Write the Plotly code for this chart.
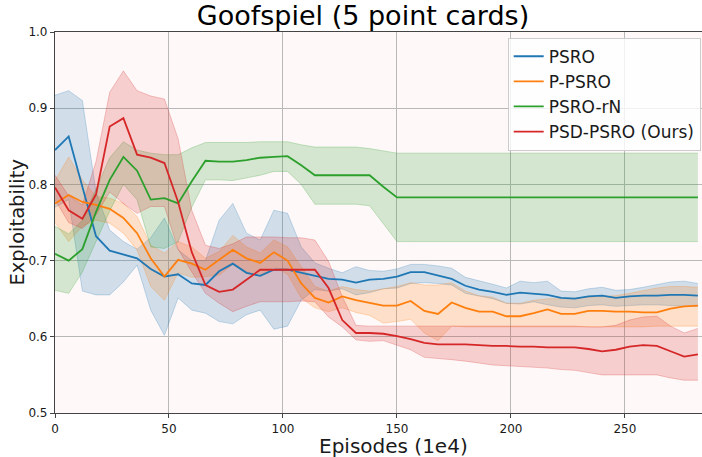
import plotly.graph_objects as go

episodes = [0, 6, 12, 18, 24, 30, 36, 42, 48, 54, 60, 66, 72, 78, 84, 90, 96, 102, 108, 114,
            120, 126, 132, 138, 144, 150, 156, 162, 168, 174, 180, 186, 192, 198, 204, 210,
            216, 222, 228, 234, 240, 246, 252, 258, 264, 270, 276, 282]

psro_mean = [0.845, 0.863, 0.797, 0.732, 0.713, 0.708, 0.703, 0.689, 0.679, 0.682, 0.670, 0.668,
             0.686, 0.696, 0.684, 0.680, 0.688, 0.688, 0.684, 0.680, 0.676, 0.675, 0.671, 0.675,
             0.676, 0.679, 0.685, 0.685, 0.681, 0.676, 0.667, 0.662, 0.659, 0.655, 0.658, 0.657,
             0.655, 0.651, 0.650, 0.653, 0.654, 0.651, 0.653, 0.654, 0.654, 0.655, 0.655, 0.654]
psro_upper = [0.917, 0.923, 0.910, 0.790, 0.740, 0.725, 0.715, 0.730, 0.756, 0.714, 0.700, 0.700,
              0.753, 0.775, 0.736, 0.727, 0.766, 0.762, 0.718, 0.697, 0.690, 0.684, 0.692, 0.687,
              0.686, 0.689, 0.695, 0.695, 0.693, 0.690, 0.678, 0.674, 0.669, 0.664, 0.673, 0.671,
              0.673, 0.660, 0.659, 0.663, 0.665, 0.661, 0.662, 0.665, 0.668, 0.672, 0.673, 0.670]
psro_lower = [0.770, 0.780, 0.660, 0.655, 0.655, 0.672, 0.694, 0.635, 0.602, 0.651, 0.635, 0.631,
              0.620, 0.617, 0.629, 0.635, 0.610, 0.614, 0.648, 0.662, 0.660, 0.663, 0.655, 0.658,
              0.663, 0.664, 0.670, 0.671, 0.670, 0.668, 0.657, 0.653, 0.650, 0.644, 0.643, 0.646,
              0.642, 0.639, 0.638, 0.641, 0.642, 0.640, 0.641, 0.642, 0.642, 0.641, 0.640, 0.640]

ppsro_mean = [0.775, 0.786, 0.777, 0.773, 0.768, 0.756, 0.736, 0.703, 0.679, 0.701, 0.696, 0.688,
              0.701, 0.714, 0.703, 0.697, 0.711, 0.700, 0.670, 0.651, 0.645, 0.653, 0.648, 0.645,
              0.641, 0.641, 0.647, 0.634, 0.630, 0.645, 0.638, 0.633, 0.633, 0.627, 0.627, 0.631,
              0.636, 0.630, 0.630, 0.634, 0.634, 0.633, 0.633, 0.632, 0.632, 0.637, 0.640, 0.641]
ppsro_upper = [0.805, 0.836, 0.806, 0.784, 0.782, 0.775, 0.758, 0.720, 0.710, 0.725, 0.718, 0.703,
               0.712, 0.733, 0.718, 0.710, 0.727, 0.718, 0.692, 0.666, 0.660, 0.666, 0.662, 0.660,
               0.663, 0.666, 0.671, 0.668, 0.668, 0.671, 0.660, 0.654, 0.652, 0.644, 0.644, 0.648,
               0.650, 0.650, 0.651, 0.652, 0.653, 0.654, 0.657, 0.660, 0.664, 0.666, 0.666, 0.665]
ppsro_lower = [0.750, 0.725, 0.745, 0.753, 0.749, 0.736, 0.714, 0.666, 0.648, 0.684, 0.678, 0.679,
               0.681, 0.695, 0.685, 0.680, 0.692, 0.682, 0.651, 0.638, 0.633, 0.638, 0.632, 0.628,
               0.618, 0.620, 0.623, 0.605, 0.595, 0.614, 0.613, 0.613, 0.613, 0.613, 0.613, 0.613,
               0.613, 0.613, 0.613, 0.613, 0.613, 0.613, 0.613, 0.613, 0.614, 0.614, 0.614, 0.614]

psrorn_mean = [0.709, 0.700, 0.715, 0.764, 0.806, 0.836, 0.818, 0.780, 0.782, 0.775, 0.804, 0.831,
               0.830, 0.830, 0.832, 0.835, 0.836, 0.837, 0.825, 0.812, 0.812, 0.812, 0.812, 0.812,
               0.797, 0.783, 0.783, 0.783, 0.783, 0.783, 0.783, 0.783, 0.783, 0.783, 0.783, 0.783,
               0.783, 0.783, 0.783, 0.783, 0.783, 0.783, 0.783, 0.783, 0.783, 0.783, 0.783, 0.783]
psrorn_upper = [0.745, 0.735, 0.753, 0.793, 0.835, 0.856, 0.845, 0.841, 0.839, 0.839, 0.848, 0.855,
                0.855, 0.855, 0.855, 0.856, 0.856, 0.856, 0.852, 0.849, 0.849, 0.849, 0.849, 0.847,
                0.844, 0.841, 0.841, 0.841, 0.841, 0.841, 0.841, 0.841, 0.841, 0.841, 0.841, 0.841,
                0.841, 0.841, 0.841, 0.841, 0.841, 0.841, 0.841, 0.841, 0.841, 0.841, 0.841, 0.841]
psrorn_lower = [0.661, 0.657, 0.685, 0.725, 0.765, 0.800, 0.780, 0.718, 0.716, 0.725, 0.770, 0.806,
                0.806, 0.805, 0.808, 0.812, 0.817, 0.817, 0.800, 0.774, 0.774, 0.774, 0.774, 0.772,
                0.748, 0.725, 0.725, 0.725, 0.725, 0.725, 0.725, 0.725, 0.725, 0.725, 0.725, 0.725,
                0.725, 0.725, 0.725, 0.725, 0.725, 0.725, 0.725, 0.725, 0.725, 0.725, 0.725, 0.725]

psd_mean = [0.796, 0.766, 0.755, 0.787, 0.876, 0.887, 0.839, 0.835, 0.828, 0.777, 0.711, 0.668,
            0.659, 0.662, 0.675, 0.688, 0.688, 0.688, 0.688, 0.688, 0.664, 0.622, 0.605, 0.605,
            0.604, 0.601, 0.597, 0.592, 0.590, 0.590, 0.590, 0.589, 0.588, 0.588, 0.587, 0.587,
            0.586, 0.586, 0.586, 0.584, 0.581, 0.583, 0.587, 0.589, 0.588, 0.581, 0.574, 0.577]
psd_upper = [0.812, 0.785, 0.773, 0.830, 0.921, 0.949, 0.923, 0.916, 0.912, 0.860, 0.766, 0.720,
             0.716, 0.722, 0.731, 0.731, 0.731, 0.730, 0.730, 0.727, 0.699, 0.653, 0.615, 0.614,
             0.614, 0.614, 0.614, 0.614, 0.614, 0.614, 0.614, 0.614, 0.614, 0.614, 0.614, 0.614,
             0.614, 0.614, 0.614, 0.613, 0.613, 0.615, 0.622, 0.626, 0.627, 0.614, 0.605, 0.611]
psd_lower = [0.780, 0.750, 0.742, 0.760, 0.790, 0.775, 0.762, 0.771, 0.771, 0.715, 0.685, 0.657,
             0.644, 0.633, 0.640, 0.646, 0.646, 0.646, 0.647, 0.646, 0.626, 0.613, 0.596, 0.594,
             0.595, 0.589, 0.583, 0.573, 0.572, 0.570, 0.568, 0.566, 0.563, 0.562, 0.561, 0.560,
             0.559, 0.557, 0.556, 0.553, 0.550, 0.550, 0.550, 0.550, 0.550, 0.546, 0.543, 0.543]

series_names = ["PSRO", "P-PSRO", "PSRO-rN", "PSD-PSRO (Ours)"]
series_colors = [(31, 119, 180), (255, 127, 14), (44, 160, 44), (214, 39, 40)]
means = [psro_mean, ppsro_mean, psrorn_mean, psd_mean]
uppers = [psro_upper, ppsro_upper, psrorn_upper, psd_upper]
lowers = [psro_lower, ppsro_lower, psrorn_lower, psd_lower]

x_ticks = [0, 50, 100, 150, 200, 250]
y_ticks = [0.5, 0.6, 0.7, 0.8, 0.9, 1.0]

FONT = "DejaVu Sans"
fig = go.Figure()

for name, c, up, lo in zip(series_names, series_colors, uppers, lowers):
    rgba_fill = "rgba(%d,%d,%d,0.2)" % c
    rgba_edge = "rgba(%d,%d,%d,0.25)" % c
    fig.add_trace(go.Scatter(x=episodes, y=up, mode="lines",
                             line=dict(color=rgba_edge, width=1),
                             showlegend=False, hoverinfo="skip"))
    fig.add_trace(go.Scatter(x=episodes, y=lo, mode="lines", fill="tonexty",
                             fillcolor=rgba_fill,
                             line=dict(color=rgba_edge, width=1),
                             showlegend=False, hoverinfo="skip"))

for name, c, m in zip(series_names, series_colors, means):
    fig.add_trace(go.Scatter(x=episodes, y=m, mode="lines", name=name,
                             legendgroup=name,
                             line=dict(color="rgb(%d,%d,%d)" % c, width=1.8)))

fig.update_layout(
    width=702, height=457,
    margin=dict(l=55, r=0, t=32, b=44),
    paper_bgcolor="white",
    plot_bgcolor="#fef8f8",
    font=dict(family=FONT, color="#1a1a1a"),
    title=dict(text="Goofspiel (5 point cards)", font=dict(size=27, family=FONT, color="black"),
               x=(363 - 55) / 647, xref="paper", xanchor="center", y=1 - 16 / 457,
               yref="container", yanchor="middle"),
    legend=dict(x=0.998, xanchor="right", y=0.985, yanchor="top",
                bgcolor="rgba(255,255,255,0.8)", bordercolor="#cccccc", borderwidth=1,
                font=dict(size=17, family=FONT, color="#1a1a1a"),
                tracegroupgap=0),
    xaxis=dict(range=[0, 283.8], tickvals=x_ticks, ticktext=[str(v) for v in x_ticks],
               showgrid=True, gridcolor="#b8b8b8", gridwidth=1, zeroline=False,
               showline=True, linecolor="#444444", linewidth=1.2, mirror=True,
               ticks="outside", ticklen=4, tickcolor="#444444",
               tickfont=dict(size=12, family=FONT)),
    yaxis=dict(range=[0.5, 1.0], tickvals=y_ticks, ticktext=["%.1f" % v for v in y_ticks],
               showgrid=True, gridcolor="#b8b8b8", gridwidth=1, zeroline=False,
               showline=True, linecolor="#444444", linewidth=1.2,
               ticks="outside", ticklen=4, tickcolor="#444444",
               tickfont=dict(size=12, family=FONT)),
    annotations=[
        dict(text="Episodes (1e4)", xref="paper", yref="paper", x=(393 - 55) / 647,
             y=-(446 - 413) / 381,
             xanchor="center", yanchor="middle", showarrow=False,
             font=dict(size=20, family=FONT, color="#1a1a1a")),
        dict(text="Exploitability", xref="paper", yref="paper", x=-(55 - 17) / 647, y=0.5,
             xanchor="center", yanchor="middle", showarrow=False, textangle=-90,
             font=dict(size=19.5, family=FONT, color="#1a1a1a")),
    ],
)

fig.write_html("out.html", config={"displayModeBar": False},
               post_script="document.body.style.margin='0';")
